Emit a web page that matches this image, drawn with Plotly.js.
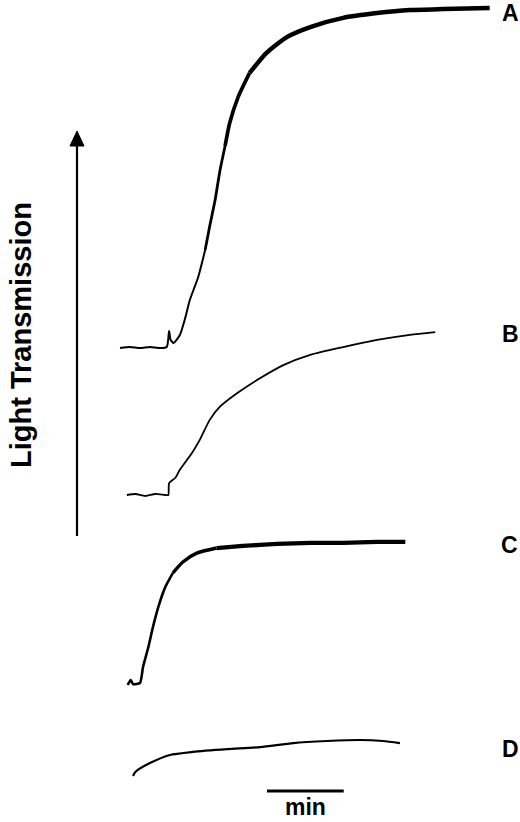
<!DOCTYPE html>
<html>
<head>
<meta charset="utf-8">
<script src="https://cdn.plot.ly/plotly-3.0.1.min.js"></script>
<style>html,body{margin:0;padding:0;background:#fff;}#chart{width:520px;height:822px;}</style>
</head>
<body>
<div id="chart"></div>
<script>
// Time in minutes (common time axis), light transmission in % of trace A's maximum
const timeA = [0,0.13,0.26,0.39,0.52,0.61,0.64,0.66,0.70,0.78,0.85,0.91,1.02,1.11,1.17,1.24,1.30,1.37,1.43,1.54,1.69,1.91,2.18,2.48,2.91,3.35,3.78,4.21,4.82];
const transA = [0,0.3,0,0.3,0,0.3,5,2.4,1.5,3.8,8.8,14.1,20.9,28.8,35.9,43.5,51.8,59.4,66.2,73.8,80.9,86.8,91.5,94.4,97.1,98.5,99.4,99.7,100];

const timeB = [0.09,0.20,0.33,0.46,0.59,0.63,0.64,0.72,0.78,0.94,1.04,1.17,1.30,1.53,1.83,2.13,2.48,2.91,3.35,3.78,4.11];
const transB = [0,0.3,-0.3,0.3,0,0,3.5,5,7.4,12.4,16.2,22.1,25.9,30,34.4,38.2,41.2,43.5,45.6,47.1,47.9];

const timeC = [0.10,0.14,0.17,0.26,0.30,0.37,0.43,0.50,0.59,0.69,0.82,1.00,1.26,1.60,2.05,2.48,2.91,3.35,3.72];
const transC = [-0.6,0.9,-0.3,0,4.7,10.6,16.5,22.4,28.2,32.4,35.6,38.2,39.7,40.3,40.9,41.2,41.2,41.5,41.5];

const timeD = [0.17,0.20,0.39,0.65,0.95,1.40,1.83,2.26,2.70,3.13,3.43,3.65];
const transD = [-0.3,0.9,3.5,5.9,6.8,7.6,8.2,9.4,10,10.3,10,9.4];

const traceLabels = ["A","B","C","D"];
const scaleBarMinutes = 1;
const scaleBarLabel = "min";
const axisLabel = "Light Transmission";

// ---- layout geometry (pixels) ----
const W = 520, H = 822;
const pxPerMin = 76.7, x0px = 120;
const pxPerPct = 3.4;
const baselines = [348, 495, 683, 775];   // pixel row of 0 % for each trace
const labelPos = [[510,13],[510,334],[509,545],[510,749]];
const FONT = 'Liberation Sans, Arial, sans-serif';

const px2x = p => (p - x0px) / pxPerMin;
const py2paper = p => 1 - p / H;
const px2paper = p => p / W;

function yRange(b) {
  const top = b / pxPerPct;
  return [top - H / pxPerPct, top];
}

const yref = i => i === 0 ? 'y' : 'y' + (i + 1);
const mk = (x, y, i, w) => ({
  type: 'scatter', mode: 'lines', x: x, y: y,
  xaxis: 'x', yaxis: yref(i),
  line: {color: '#000', width: w, shape: 'spline', smoothing: 0.6},
  hoverinfo: 'skip', showlegend: false
});
// draw a series in consecutive pieces of increasing stroke weight (the noisier, heavier part of the trace)
function pieces(x, y, i, cuts, ws) {
  const out = [];
  for (let k = 0; k < ws.length; k++) {
    const a = k === 0 ? 0 : cuts[k - 1];
    const b = k < cuts.length ? cuts[k] + 1 : x.length;
    out.push(mk(x.slice(a, b), y.slice(a, b), i, ws[k]));
  }
  return out;
}

const data = [].concat(
  pieces(timeA, transA, 0, [13, 17, 20], [2, 2.8, 3.7, 4.5]),
  [mk(timeB, transB, 1, 1.8)],
  pieces(timeC, transC, 2, [9, 12], [2.6, 3.4, 4.3]),
  [mk(timeD, transD, 3, 2.2)]
);

const hiddenAxis = r => ({range: r, visible: false, showgrid: false, zeroline: false, fixedrange: true});
const layout = {
  width: W, height: H,
  margin: {l: 0, r: 0, t: 0, b: 0},
  paper_bgcolor: '#fff', plot_bgcolor: '#fff',
  showlegend: false,
  xaxis: {range: [px2x(0), px2x(W)], visible: false, showgrid: false, zeroline: false, fixedrange: true},
  yaxis: hiddenAxis(yRange(baselines[0])),
  annotations: [],
  shapes: []
};
for (let i = 1; i < 4; i++) {
  layout['yaxis' + (i + 1)] = Object.assign(hiddenAxis(yRange(baselines[i])), {overlaying: 'y'});
}

// trace letters
traceLabels.forEach((t, i) => {
  layout.annotations.push({
    text: t, xref: 'paper', yref: 'paper',
    x: px2paper(labelPos[i][0]), y: py2paper(labelPos[i][1]),
    xanchor: 'center', yanchor: 'middle', showarrow: false,
    font: {family: FONT, size: 23, color: '#000', weight: 'bold'}
  });
});

// vertical arrow
layout.shapes.push({type: 'line', xref: 'paper', yref: 'paper',
  x0: px2paper(77), x1: px2paper(77), y0: py2paper(536), y1: py2paper(144),
  line: {color: '#000', width: 2.2}});
const tip = [77, 131], hw = 7, hl = 15;
layout.shapes.push({type: 'path', xref: 'paper', yref: 'paper',
  path: `M ${px2paper(tip[0])} ${py2paper(tip[1])} L ${px2paper(tip[0]-hw)} ${py2paper(tip[1]+hl)} L ${px2paper(tip[0]+hw)} ${py2paper(tip[1]+hl)} Z`,
  fillcolor: '#000', line: {color: '#000', width: 1}});

layout.annotations.push({
  text: axisLabel, xref: 'paper', yref: 'paper',
  x: px2paper(21), y: py2paper(335), textangle: -90,
  xanchor: 'center', yanchor: 'middle', showarrow: false,
  font: {family: FONT, size: 29, color: '#000', weight: 'bold'}
});

// time scale bar: 1 min in data units
const barStart = px2x(267);
layout.shapes.push({type: 'line', xref: 'x', yref: 'paper',
  x0: barStart, x1: barStart + scaleBarMinutes, y0: py2paper(791), y1: py2paper(791),
  line: {color: '#000', width: 3}});
layout.annotations.push({
  text: scaleBarLabel, xref: 'x', yref: 'paper',
  x: barStart + scaleBarMinutes / 2, y: py2paper(807),
  xanchor: 'center', yanchor: 'middle', showarrow: false,
  font: {family: FONT, size: 23, color: '#000', weight: 'bold'}
});

Plotly.newPlot('chart', data, layout, {staticPlot: true, displayModeBar: false});
</script>
</body>
</html>
